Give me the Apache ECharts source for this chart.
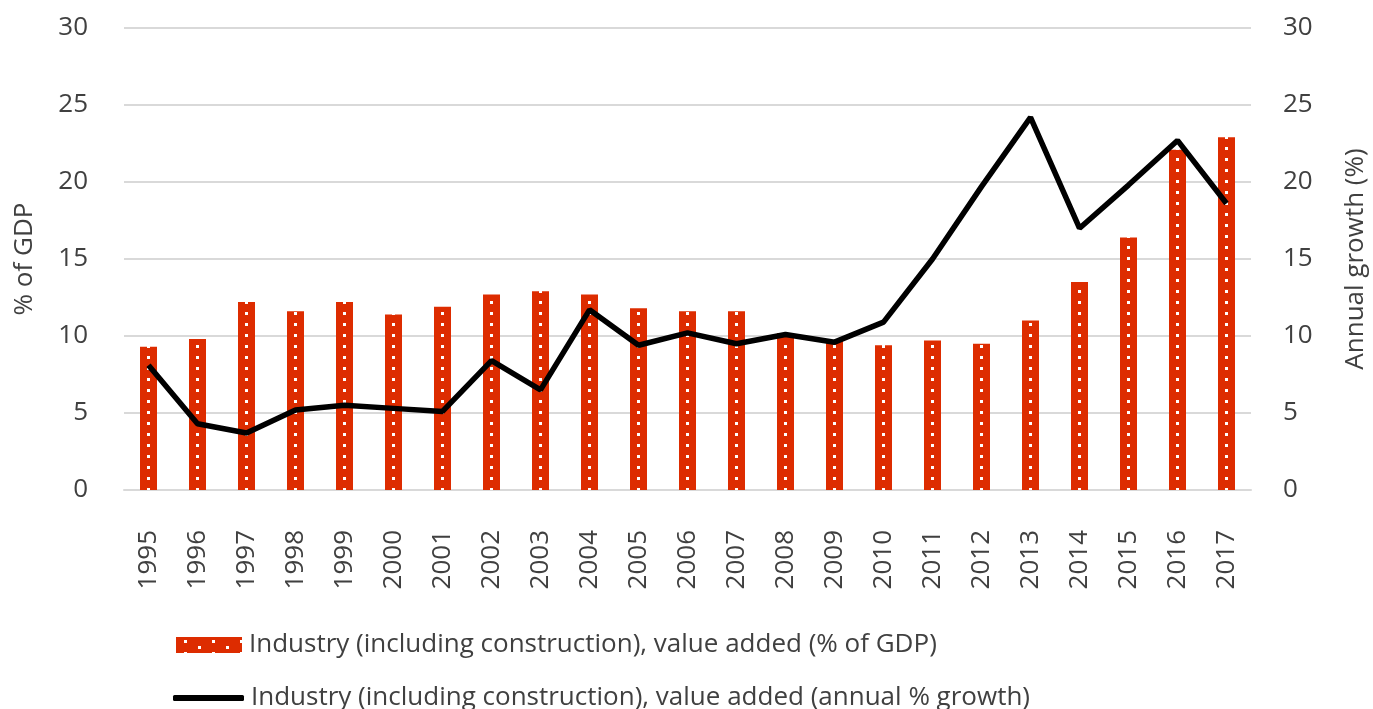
<!DOCTYPE html>
<html lang="en">
<head>
    <meta charset="UTF-8">
    <title>Industry value added</title>
    <script src="https://cdn.jsdelivr.net/npm/echarts@6/dist/echarts.min.js"></script>
    <style>
        html, body { margin: 0; padding: 0; background: #fff; }
        #chart { width: 1373px; height: 709px; }
    </style>
</head>
<body>
<div id="chart"></div>
<script>
    // data
    const years = ['1995', '1996', '1997', '1998', '1999', '2000', '2001', '2002', '2003', '2004', '2005', '2006',
        '2007', '2008', '2009', '2010', '2011', '2012', '2013', '2014', '2015', '2016', '2017'];
    const shareOfGdp = [9.3, 9.8, 12.2, 11.6, 12.2, 11.4, 11.9, 12.7, 12.9, 12.7, 11.8, 11.6,
        11.6, 10.2, 9.7, 9.4, 9.7, 9.5, 11.0, 13.5, 16.4, 22.1, 22.9];
    const annualGrowth = [8.1, 4.3, 3.7, 5.2, 5.5, 5.3, 5.1, 8.4, 6.5, 11.7, 9.4, 10.2,
        9.5, 10.1, 9.6, 10.9, 15.0, 19.7, 24.2, 17.0, 19.8, 22.7, 18.6];
    const barName = 'Industry (including construction), value added (% of GDP)';
    const lineName = 'Industry (including construction), value added (annual % growth)';

    const FONT = '"Open Sans", "DejaVu Sans", sans-serif';
    const TEXT = '#404040';
    const FS = 26;
    const RED = '#dd2c00';

    // red fill with small white dots
    function dotPattern(w, h, dots) {
        const c = document.createElement('canvas');
        c.width = w;
        c.height = h;
        const ctx = c.getContext('2d');
        ctx.fillStyle = RED;
        ctx.fillRect(0, 0, w, h);
        ctx.fillStyle = '#ffffff';
        dots.forEach(([x, y]) => ctx.fillRect(x, y, 3, 3));
        return c;
    }

    // bar pattern repeats from the canvas origin: one dot column per 49px category band
    const barFill = {image: dotPattern(49, 11, [[0, 4]]), repeat: 'repeat'};
    const legendFill = {image: dotPattern(28, 12, [[8, 3], [22, 9]]), repeat: 'repeat'};

    const legendText = {fontSize: FS, color: TEXT, fontFamily: FONT, padding: [0, 0, 0, 2]};

    const chart = echarts.init(document.getElementById('chart'));
    chart.setOption({
        animation: false,
        textStyle: {fontFamily: FONT},
        grid: {left: 124, width: 1127, top: 28, height: 462, outerBoundsMode: 'none', containLabel: false},
        legend: [
            {
                left: 171, top: 627,
                itemWidth: 66, itemHeight: 16,
                textStyle: legendText,
                data: [{name: barName, icon: 'rect', itemStyle: {color: legendFill}}]
            },
            {
                left: 168, top: 680,
                itemWidth: 71, itemHeight: 6,
                textStyle: legendText,
                data: [{name: lineName, icon: 'roundRect'}]
            }
        ],
        xAxis: {
            type: 'category',
            data: years,
            axisLine: {lineStyle: {color: '#d9d9d9', width: 2}},
            axisTick: {show: false},
            axisLabel: {rotate: 90, fontSize: FS, color: TEXT, margin: 40}
        },
        yAxis: [
            {
                type: 'value', min: 0, max: 30, interval: 5,
                name: '% of GDP', nameLocation: 'middle', nameGap: 86,
                nameTextStyle: {fontSize: FS, color: TEXT},
                axisLabel: {fontSize: FS, color: TEXT, margin: 36},
                splitLine: {lineStyle: {color: '#d9d9d9', width: 2}}
            },
            {
                type: 'value', min: 0, max: 30, interval: 5,
                name: 'Annual growth (%)', nameLocation: 'middle', nameGap: 92,
                nameTextStyle: {fontSize: FS, color: TEXT},
                axisLabel: {fontSize: FS, color: TEXT, margin: 32},
                splitLine: {show: false}
            }
        ],
        series: [
            {
                name: barName,
                type: 'bar',
                yAxisIndex: 0,
                barWidth: 17,
                data: shareOfGdp,
                itemStyle: {color: barFill}
            },
            {
                name: lineName,
                type: 'line',
                yAxisIndex: 1,
                data: annualGrowth,
                symbol: 'none',
                lineStyle: {color: '#000', width: 5.5},
                itemStyle: {color: '#000'}
            }
        ]
    });
</script>
</body>
</html>
